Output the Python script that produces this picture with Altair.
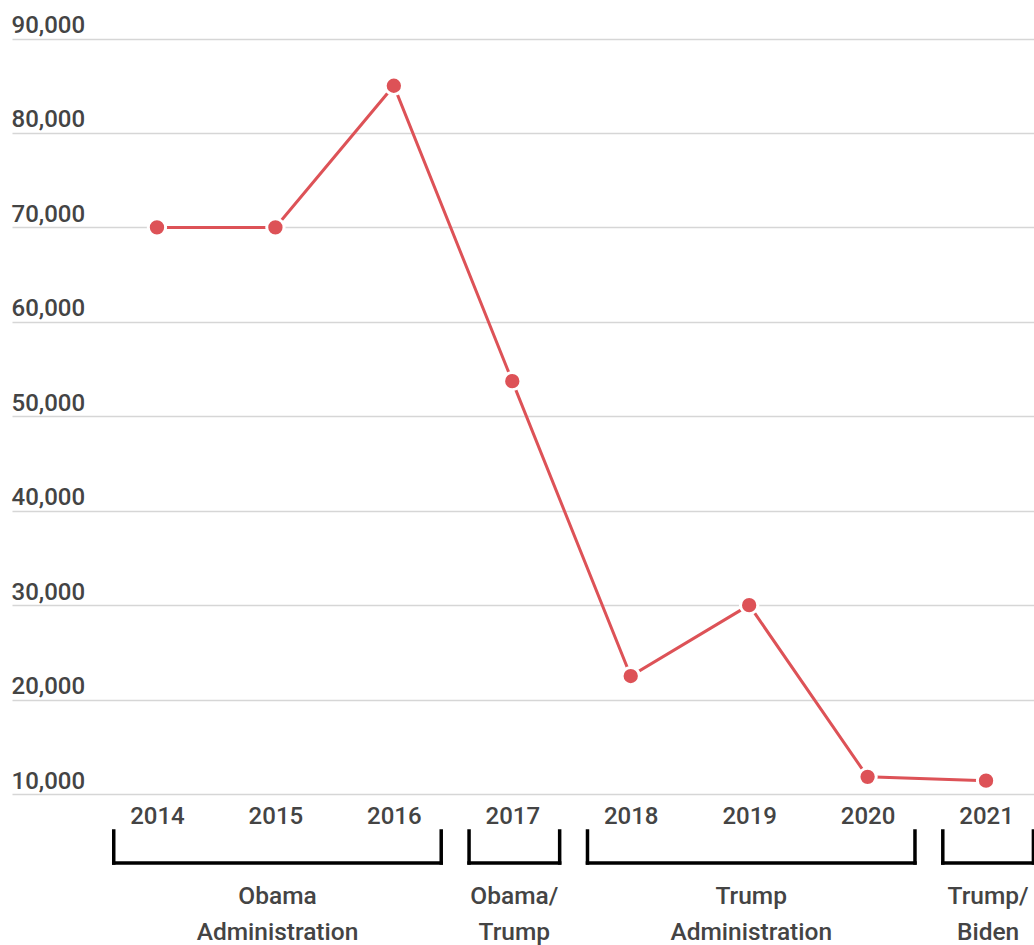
import altair as alt
import pandas as pd

# Data
years = [2014, 2015, 2016, 2017, 2018, 2019, 2020, 2021]
admissions = [70000, 70000, 85000, 53716, 22491, 30000, 11814, 11411]

group_labels = ["Obama\nAdministration", "Obama/\nTrump", "Trump\nAdministration", "Trump/\nBiden"]
group_first_year = [2014, 2017, 2018, 2021]
group_last_year = [2016, 2017, 2020, 2021]

y_ticks = [10000, 20000, 30000, 40000, 50000, 60000, 70000, 80000, 90000]

df = pd.DataFrame({"year": years, "value": admissions})
groups = pd.DataFrame({"label": group_labels, "first": group_first_year, "last": group_last_year})

RED = "#dd5257"
TEXT = "#444444"
FONT = "Roboto"

xscale = alt.Scale(domain=[2012.776, 2021.405], nice=False, zero=False)
yscale = alt.Scale(domain=[10000, 94080], nice=False, zero=False)

x_axis = alt.Axis(values=years, format="d", title=None, grid=False, domain=False, ticks=False,
                  labelFontSize=24, labelFont=FONT, labelFontWeight=500, labelColor=TEXT,
                  labelBaseline="middle", labelPadding=22, labelFlush=False)
y_axis = alt.Axis(values=y_ticks, format=",d", title=None, grid=True, gridColor="#d6d6d6",
                  gridWidth=1.3, domain=False, ticks=False, tickSize=0,
                  labelFontSize=24, labelFont=FONT, labelFontWeight=500, labelColor=TEXT,
                  labelAlign="left", labelBaseline="alphabetic", labelOffset=-6,
                  labelPadding=1, labelFlush=False)

base = alt.Chart(df)

line = base.mark_line(color=RED, strokeWidth=3).encode(
    x=alt.X("year:Q", scale=xscale, axis=x_axis),
    y=alt.Y("value:Q", scale=yscale, axis=y_axis),
)
points = base.mark_point(filled=True, fill=RED, stroke="white", strokeWidth=3, size=300, opacity=1).encode(
    x=alt.X("year:Q", scale=xscale),
    y=alt.Y("value:Q", scale=yscale),
)

gbase = alt.Chart(groups).transform_calculate(
    x0="datum.first - 0.365", x1="datum.last + 0.4", xc="(datum.first - 0.365 + datum.last + 0.4) / 2"
)

bracket_h = gbase.mark_rule(color="black", strokeWidth=3.5, strokeCap="square").encode(
    x=alt.X("x0:Q", scale=xscale), x2="x1:Q", y=alt.value(863)
)
bracket_l = gbase.mark_rule(color="black", strokeWidth=3.5, strokeCap="square").encode(
    x=alt.X("x0:Q", scale=xscale), y=alt.value(831), y2=alt.value(863)
)
bracket_r = gbase.mark_rule(color="black", strokeWidth=3.5, strokeCap="square").encode(
    x=alt.X("x1:Q", scale=xscale), y=alt.value(831), y2=alt.value(863)
)
group_text = gbase.mark_text(font=FONT, fontSize=24.5, fontWeight=500, color=TEXT, align="center",
                             baseline="middle", lineBreak="\n", lineHeight=36).encode(
    x=alt.X("xc:Q", scale=xscale), y=alt.value(897), text="label:N"
)

chart = alt.layer(line, points, bracket_h, bracket_l, bracket_r, group_text).properties(
    width=1022, height=794,
    autosize=alt.AutoSizeParams(type="none"),
    padding={"left": 12, "top": 0, "right": 0, "bottom": 151},
    background="white",
).configure_view(stroke=None)

chart.save("out.html", embed_options={"renderer": "svg", "actions": False})
